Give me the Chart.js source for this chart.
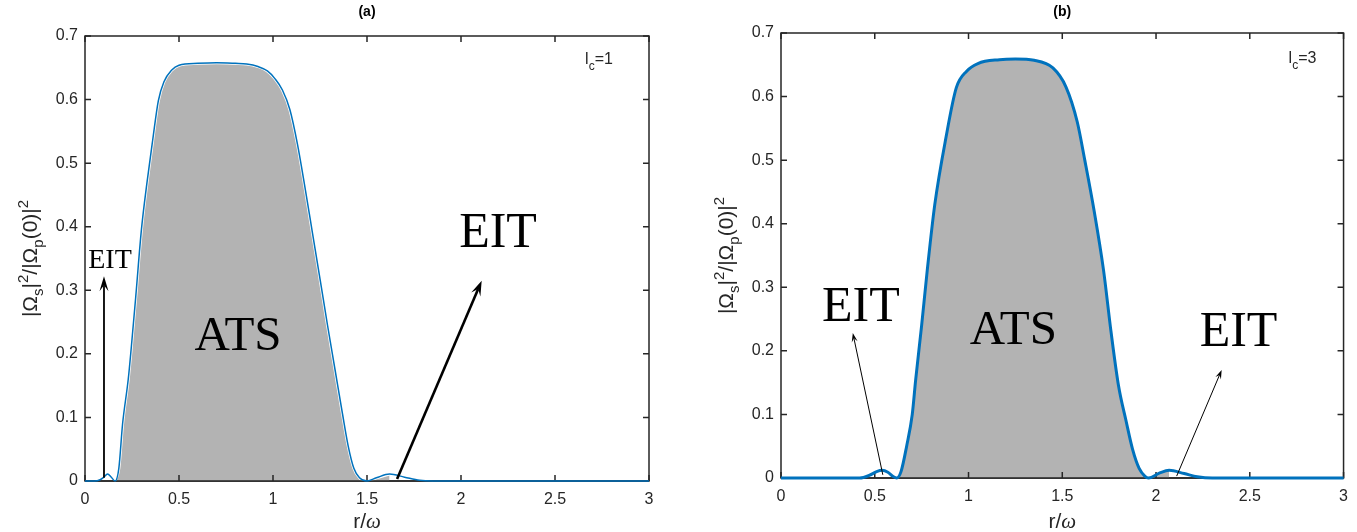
<!DOCTYPE html>
<html>
<head>
<script src="https://cdn.jsdelivr.net/npm/chart.js@4.4.0/dist/chart.umd.min.js"></script>
<style>
body { margin:0; background:#fff; }
#wrapA { position:absolute; left:0; top:0; }
#wrapB { position:absolute; left:696px; top:0; }
</style>
<title>ATS / EIT</title>
</head>
<body>
<div id="wrapA"><canvas id="chartA" width="670" height="532"></canvas></div>
<div id="wrapB"><canvas id="chartB" width="661" height="532"></canvas></div>
<script>
// panel (a), l_c = 1
const rA = [0, 0.05, 0.08, 0.10, 0.12, 0.14, 0.16, 0.18, 0.20, 0.23,
            0.245, 0.27, 0.30, 0.33, 0.36, 0.39, 0.42, 0.46, 0.50, 0.60,
            0.70, 0.80, 0.86, 0.92, 0.97, 1.01, 1.05, 1.09, 1.13, 1.17,
            1.21, 1.25, 1.29, 1.33, 1.37, 1.40, 1.43, 1.46, 1.50, 1.55,
            1.62, 1.70, 1.78, 1.85, 2.0, 2.5, 3.0];
const vA = [0, 0, 0.002, 0.006, 0.011, 0.006, 0, 0.02, 0.09, 0.16,
            0.206, 0.29, 0.395, 0.47, 0.536, 0.598, 0.628, 0.646, 0.654, 0.657,
            0.658, 0.657, 0.656, 0.652, 0.645, 0.633, 0.615, 0.584, 0.53, 0.462,
            0.39, 0.318, 0.245, 0.175, 0.105, 0.055, 0.02, 0.005, 0, 0.005,
            0.011, 0.006, 0.001, 0, 0, 0, 0];
const fillA = [0.16, 1.62];

// panel (b), l_c = 3
const rB = [0, 0.3, 0.42, 0.47, 0.51, 0.54, 0.57, 0.60, 0.617, 0.64,
            0.67, 0.70, 0.718, 0.75, 0.78, 0.82, 0.88, 0.935, 0.99, 1.05,
            1.165, 1.25, 1.35, 1.45, 1.52, 1.58, 1.62, 1.67, 1.72, 1.76,
            1.80, 1.84, 1.875, 1.91, 1.94, 1.96, 2.02, 2.07, 2.15, 2.22,
            2.3, 2.5, 3.0];
const vB = [0, 0, 0, 0.004, 0.010, 0.012, 0.009, 0.002, 0, 0.01,
            0.05, 0.1, 0.154, 0.24, 0.327, 0.43, 0.536, 0.614, 0.64, 0.652,
            0.658, 0.659, 0.657, 0.645, 0.615, 0.56, 0.5, 0.42, 0.327, 0.23,
            0.145, 0.09, 0.045, 0.015, 0.003, 0, 0.008, 0.012, 0.007, 0.002,
            0, 0, 0];
const fillB = [0.617, 2.07];

// annotations, in data units
const textsA = [{t:'EIT', x:0.133, y:0.335, size:28}, {t:'ATS', x:0.814, y:0.206, size:49}, {t:'EIT', x:2.197, y:0.368, size:50}];
const arrowsA = [{x0:0.101, y0:0.005, x1:0.101, y1:0.322, w:1.8, hl:15, hw:9},
                 {x0:1.66, y0:0.003, x1:2.11, y1:0.315, w:2.6, hl:15, hw:10}];
const textsB = [{t:'EIT', x:0.426, y:0.247, size:50}, {t:'ATS', x:1.239, y:0.211, size:49}, {t:'EIT', x:2.44, y:0.208, size:50}];
const arrowsB = [{x0:0.543, y0:0.005, x1:0.383, y1:0.228, w:1, hl:9, hw:6},
                 {x0:2.11, y0:0.003, x1:2.35, y1:0.17, w:1, hl:9, hw:6}];

const AX = '#262626';
const SANS = '"Liberation Sans", Arial, sans-serif';
const SERIF = '"Liberation Serif", "Times New Roman", serif';

function pts(r, v) { return r.map((x, i) => ({x: x, y: v[i]})); }
function ptsIn(r, v, rng) { return pts(r, v).filter(p => p.x >= rng[0] - 1e-9 && p.x <= rng[1] + 1e-9); }

function drawArrow(ctx, x0, y0, x1, y1, w, hl, hw) {
    const a = Math.atan2(y1 - y0, x1 - x0), c = Math.cos(a), s = Math.sin(a);
    ctx.strokeStyle = '#000'; ctx.fillStyle = '#000'; ctx.lineWidth = w;
    ctx.beginPath(); ctx.moveTo(x0, y0); ctx.lineTo(x1 - c * hl * 0.6, y1 - s * hl * 0.6); ctx.stroke();
    ctx.beginPath();
    ctx.moveTo(x1, y1);
    ctx.lineTo(x1 - c * hl - s * hw / 2, y1 - s * hl + c * hw / 2);
    ctx.lineTo(x1 - c * hl * 0.6, y1 - s * hl * 0.6);
    ctx.lineTo(x1 - c * hl + s * hw / 2, y1 - s * hl - c * hw / 2);
    ctx.closePath(); ctx.fill();
}

// rich text: parts [text, 'n'|'sub'|'sup']
function richWidth(ctx, parts, size) {
    let w = 0;
    parts.forEach(p => { ctx.font = (p[1] === 'n' ? size : Math.round(size * 0.7)) + 'px ' + SANS; w += ctx.measureText(p[0]).width; });
    return w;
}
function drawRich(ctx, parts, size, x, y) {
    parts.forEach(p => {
        const sz = p[1] === 'n' ? size : Math.round(size * 0.7);
        const dy = p[1] === 'sub' ? size * 0.3 : (p[1] === 'sup' ? -size * 0.42 : 0);
        ctx.font = sz + 'px ' + SANS;
        ctx.fillText(p[0], x, y + dy);
        x += ctx.measureText(p[0]).width;
    });
}

const ylab = [['|\u03A9', 'n'], ['s', 'sub'], ['|', 'n'], ['2', 'sup'], ['/|\u03A9', 'n'], ['p', 'sub'], ['(0)|', 'n'], ['2', 'sup']];

const framePlugin = {
    id: 'frame',
    beforeDatasetsDraw(chart) {
        const {ctx, chartArea: a} = chart;
        ctx.save();
        ctx.strokeStyle = AX; ctx.lineWidth = 1.5;
        ctx.strokeRect(a.left, a.top, a.right - a.left, a.bottom - a.top);
        ctx.restore();
    },
    afterDatasetDraw(chart, args) {
        if (args.index !== 1) return;
        const {ctx, chartArea: a, scales: {x, y}} = chart;
        ctx.save();
        ctx.strokeStyle = AX; ctx.lineWidth = 1.5;
        ctx.beginPath();
        ctx.moveTo(a.left, a.bottom); ctx.lineTo(a.right, a.bottom);
        x.ticks.forEach(t => {
            const px = x.getPixelForValue(t.value);
            ctx.moveTo(px, a.bottom); ctx.lineTo(px, a.bottom - 6);
            ctx.moveTo(px, a.top); ctx.lineTo(px, a.top + 6);
        });
        y.ticks.forEach(t => {
            const py = y.getPixelForValue(t.value);
            ctx.moveTo(a.left, py); ctx.lineTo(a.left + 6, py);
            ctx.moveTo(a.right, py); ctx.lineTo(a.right - 6, py);
        });
        ctx.stroke();
        ctx.restore();
    },
    afterDatasetsDraw(chart, args, o) {
        const {ctx, chartArea: a, scales: {x, y}} = chart;
        ctx.save();
        o.arrows.forEach(r => drawArrow(ctx, x.getPixelForValue(r.x0), y.getPixelForValue(r.y0),
            x.getPixelForValue(r.x1), y.getPixelForValue(r.y1), r.w, r.hl, r.hw));
        ctx.fillStyle = '#000'; ctx.textAlign = 'center'; ctx.textBaseline = 'alphabetic';
        o.texts.forEach(t => {
            ctx.font = t.size + 'px ' + SERIF;
            ctx.fillText(t.t, x.getPixelForValue(t.x), y.getPixelForValue(t.y));
        });

        // l_c label
        ctx.fillStyle = AX; ctx.textAlign = 'left';
        let lx = x.getPixelForValue(o.lc.x), ly = y.getPixelForValue(o.lc.y);
        ctx.font = '16px ' + SANS; ctx.fillText('l', lx, ly); lx += ctx.measureText('l').width;
        ctx.font = '12px ' + SANS; ctx.fillText('c', lx, ly + 6); lx += ctx.measureText('c').width;
        ctx.font = '16px ' + SANS; ctx.fillText(o.lc.t, lx, ly);

        // panel title
        const cx = (a.left + a.right) / 2;
        ctx.fillStyle = '#000'; ctx.textAlign = 'center'; ctx.textBaseline = 'middle';
        ctx.font = 'bold 14px ' + SANS;
        ctx.fillText(o.title, cx, 12);

        // x axis title r/omega
        ctx.textBaseline = 'alphabetic'; ctx.fillStyle = AX; ctx.textAlign = 'left';
        ctx.font = '21px ' + SANS;
        const w1 = ctx.measureText('r/').width;
        ctx.font = 'italic 21px ' + SERIF;
        const w2 = ctx.measureText('\u03C9').width;
        let sx = cx - (w1 + w2) / 2;
        ctx.font = '21px ' + SANS; ctx.fillText('r/', sx, 528);
        ctx.font = 'italic 21px ' + SERIF; ctx.fillText('\u03C9', sx + w1, 528);

        // y axis title
        const cy = (a.top + a.bottom) / 2;
        ctx.translate(37, cy); ctx.rotate(-Math.PI / 2);
        const wy = richWidth(ctx, ylab, 21);
        drawRich(ctx, ylab, 21, -wy / 2, 0);
        ctx.restore();
    }
};

const fmt = v => String(Number(v.toFixed(2)));

function makeChart(id, r, v, rng, lineW, edgeW, top, right, xh, opts) {
    return new Chart(document.getElementById(id), {
        type: 'line',
        data: {
            datasets: [
                {data: pts(r, v), borderColor: '#0072BD', borderWidth: lineW, pointRadius: 0,
                 cubicInterpolationMode: 'monotone', fill: false, clip: 4},
                {data: ptsIn(r, v, rng), borderColor: '#ffffff', borderWidth: edgeW, pointRadius: 0,
                 cubicInterpolationMode: 'monotone', fill: 'origin', backgroundColor: '#b3b3b3', clip: 0}
            ]
        },
        options: {
            responsive: false,
            animation: false,
            layout: {padding: {left: 0, top: top, right: right, bottom: 0}},
            plugins: {legend: {display: false}, tooltip: {enabled: false}, frame: opts},
            scales: {
                x: {type: 'linear', min: 0, max: 3,
                    ticks: {stepSize: 0.5, color: AX, padding: 9, maxRotation: 0, callback: fmt, font: {family: SANS, size: 16}},
                    grid: {display: false, drawTicks: false}, border: {display: false},
                    afterFit: s => { s.height = xh; }},
                y: {min: 0, max: 0.7,
                    ticks: {stepSize: 0.1, color: AX, padding: 7, callback: fmt, font: {family: SANS, size: 16}},
                    grid: {display: false, drawTicks: false}, border: {display: false},
                    afterFit: s => { s.width = 85; }}
            }
        },
        plugins: [framePlugin]
    });
}

makeChart('chartA', rA, vA, fillA, 1.5, 3, 36, 21, 51,
    {title: '(a)', texts: textsA, arrows: arrowsA, lc: {t: '=1', x: 2.66, y: 0.656}});
makeChart('chartB', rB, vB, fillB, 3, 0, 33, 12, 54,
    {title: '(b)', texts: textsB, arrows: arrowsB, lc: {t: '=3', x: 2.707, y: 0.653}});
</script>
</body>
</html>
